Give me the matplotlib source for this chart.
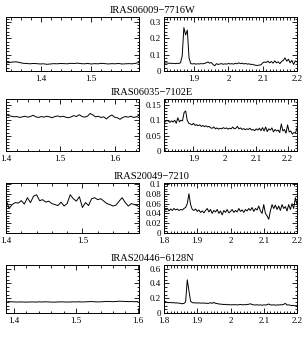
import numpy as np
import matplotlib.pyplot as plt
from matplotlib.ticker import MultipleLocator, FuncFormatter

plt.rcParams["font.family"] = ["Liberation Serif", "DejaVu Serif"]
plt.rcParams["font.size"] = 6.5

names = ["IRAS06009\u22127716W", "IRAS06035\u22127102E", "IRAS20049\u22127210", "IRAS20446\u22126128N"]

# H band (left panels): wavelength span of each sampled spectrum, flux values
h1_span = (1.330, 1.595)
h1_flux = [0.050, 0.052, 0.055, 0.056, 0.052, 0.047, 0.046, 0.044, 0.046, 0.045,
           0.043, 0.044, 0.041, 0.043, 0.045, 0.044, 0.046, 0.045, 0.044, 0.047,
           0.046, 0.048, 0.045, 0.044, 0.046, 0.043, 0.045, 0.044, 0.047, 0.045,
           0.043, 0.045, 0.044, 0.046, 0.043, 0.044, 0.045, 0.044, 0.047, 0.052]
h2_span = (1.400, 1.645)
h2_flux = [0.118, 0.115, 0.113, 0.111, 0.112, 0.109, 0.111, 0.113, 0.110, 0.112,
           0.116, 0.111, 0.109, 0.112, 0.110, 0.113, 0.111, 0.108, 0.112, 0.114,
           0.111, 0.113, 0.110, 0.108, 0.111, 0.115, 0.112, 0.118, 0.112, 0.110,
           0.113, 0.122, 0.117, 0.111, 0.113, 0.109, 0.111, 0.104, 0.112, 0.117,
           0.110, 0.108, 0.103, 0.109, 0.112, 0.110, 0.113, 0.109, 0.111, 0.116]
h3_span = (1.400, 1.572)
h3_flux = [0.068, 0.050, 0.058, 0.062, 0.061, 0.066, 0.059, 0.072, 0.062, 0.075,
           0.078, 0.066, 0.068, 0.063, 0.065, 0.060, 0.058, 0.056, 0.063, 0.055,
           0.060, 0.078, 0.070, 0.065, 0.074, 0.052, 0.062, 0.056, 0.070, 0.072,
           0.068, 0.070, 0.065, 0.060, 0.058, 0.055, 0.057, 0.065, 0.072, 0.062,
           0.055, 0.060, 0.058, 0.056]
h4_span = (1.390, 1.600)
h4_flux = [0.155, 0.152, 0.150, 0.148, 0.150, 0.149, 0.147, 0.149, 0.150, 0.148,
           0.151, 0.149, 0.152, 0.150, 0.148, 0.147, 0.149, 0.151, 0.150, 0.148,
           0.149, 0.151, 0.150, 0.152, 0.149, 0.151, 0.153, 0.155, 0.152, 0.150,
           0.151, 0.154, 0.157, 0.155, 0.153, 0.156, 0.160, 0.158, 0.156, 0.154,
           0.155, 0.153, 0.155]

# K band (right panels)
k1_span = (1.810, 2.200)
k1_flux = [0.050, 0.048, 0.050, 0.047, 0.048, 0.046, 0.047, 0.045, 0.047, 0.046,
           0.050, 0.090, 0.265, 0.220, 0.250, 0.080, 0.045, 0.043, 0.045, 0.042,
           0.044, 0.043, 0.045, 0.044, 0.046, 0.050, 0.055, 0.048, 0.052, 0.040,
           0.032, 0.045, 0.040, 0.043, 0.045, 0.041, 0.044, 0.042, 0.046, 0.043,
           0.045, 0.042, 0.047, 0.044, 0.050, 0.045, 0.048, 0.043, 0.046, 0.042,
           0.044, 0.040, 0.041, 0.037, 0.035, 0.034, 0.036, 0.038, 0.050, 0.055,
           0.052, 0.060, 0.050, 0.058, 0.048, 0.062, 0.050, 0.056, 0.045, 0.058,
           0.065, 0.080, 0.060, 0.072, 0.050, 0.065, 0.040, 0.062, 0.055]
k2_span = (1.810, 2.230)
k2_flux = [0.095, 0.100, 0.097, 0.093, 0.098, 0.094, 0.100, 0.090, 0.108, 0.095,
           0.100, 0.098, 0.125, 0.130, 0.100, 0.090, 0.088, 0.085, 0.090, 0.083,
           0.086, 0.082, 0.085, 0.080, 0.083, 0.079, 0.082, 0.078, 0.080, 0.075,
           0.074, 0.078, 0.072, 0.075, 0.071, 0.074, 0.072, 0.076, 0.073, 0.075,
           0.071, 0.074, 0.072, 0.078, 0.072, 0.074, 0.080, 0.072, 0.075, 0.070,
           0.073, 0.069, 0.072, 0.070, 0.074, 0.068, 0.070, 0.066, 0.072, 0.068,
           0.074, 0.066, 0.076, 0.065, 0.078, 0.063, 0.072, 0.068, 0.075, 0.062,
           0.070, 0.065, 0.068, 0.060, 0.088, 0.065, 0.070, 0.058, 0.085, 0.062,
           0.065, 0.055, 0.060, 0.058, 0.075]
k3_span = (1.800, 2.200)
k3_flux = [0.052, 0.047, 0.050, 0.045, 0.049, 0.046, 0.050, 0.047, 0.049, 0.046,
           0.048, 0.047, 0.050, 0.052, 0.060, 0.080, 0.058, 0.048, 0.046, 0.049,
           0.044, 0.047, 0.042, 0.045, 0.041, 0.046, 0.050, 0.043, 0.048, 0.040,
           0.046, 0.043, 0.048, 0.040, 0.045, 0.037, 0.046, 0.042, 0.048, 0.041,
           0.044, 0.048, 0.042, 0.046, 0.043, 0.050, 0.044, 0.047, 0.042, 0.048,
           0.045, 0.050, 0.046, 0.052, 0.044, 0.050, 0.047, 0.055, 0.045, 0.040,
           0.058, 0.040, 0.035, 0.028, 0.045, 0.058, 0.050, 0.057, 0.048, 0.055,
           0.046, 0.058, 0.050, 0.054, 0.045, 0.058, 0.048, 0.060, 0.050, 0.072,
           0.058]
k4_span = (1.800, 2.200)
k4_flux = [0.170, 0.150, 0.145, 0.140, 0.142, 0.138, 0.140, 0.135, 0.137, 0.133,
           0.130, 0.125, 0.130, 0.150, 0.450, 0.300, 0.160, 0.140, 0.138, 0.137,
           0.135, 0.137, 0.134, 0.135, 0.133, 0.134, 0.130, 0.132, 0.140, 0.130,
           0.145, 0.130, 0.128, 0.122, 0.120, 0.118, 0.115, 0.117, 0.112, 0.114,
           0.110, 0.112, 0.111, 0.113, 0.110, 0.112, 0.115, 0.111, 0.113, 0.112,
           0.116, 0.118, 0.125, 0.115, 0.110, 0.108, 0.112, 0.107, 0.110, 0.105,
           0.110, 0.108, 0.112, 0.122, 0.110, 0.108, 0.112, 0.105, 0.110, 0.108,
           0.112, 0.110, 0.118, 0.130, 0.108, 0.110, 0.105, 0.100, 0.103, 0.098,
           0.100]

h_spans = [h1_span, h2_span, h3_span, h4_span]
h_fluxes = [h1_flux, h2_flux, h3_flux, h4_flux]
k_spans = [k1_span, k2_span, k3_span, k4_span]
k_fluxes = [k1_flux, k2_flux, k3_flux, k4_flux]

# axis limits per row
h_xlims = [(1.330, 1.595), (1.400, 1.645), (1.400, 1.574), (1.387, 1.602)]
k_xlims = [(1.812, 2.200), (1.806, 2.230), (1.800, 2.200), (1.800, 2.200)]
ylims = [(0, 0.33), (0, 0.169), (0, 0.102), (0, 0.65)]
y_major = [0.1, 0.05, 0.02, 0.2]
y_minor = [0.02, 0.01, 0.005, 0.05]

# pixel boxes (top, bottom) of each row in a 305x350 figure
rows_px = [(17, 71), (99, 151), (183, 233), (265, 313)]
W, H = 305, 350

fig = plt.figure(figsize=(3.05, 3.5), dpi=100)
fmt = FuncFormatter(lambda v, p: "%g" % round(v, 4))

for i in range(4):
    top, bot = rows_px[i]
    b = 1 - bot / H
    h = (bot - top) / H
    axl = fig.add_axes([6 / W, b, 133 / W, h])
    axr = fig.add_axes([164 / W, b, 133 / W, h])

    xh = np.linspace(h_spans[i][0], h_spans[i][1], len(h_fluxes[i]))
    xk = np.linspace(k_spans[i][0], k_spans[i][1], len(k_fluxes[i]))
    axl.plot(xh, h_fluxes[i], color="black", lw=0.7)
    axr.plot(xk, k_fluxes[i], color="black", lw=0.7)

    axl.set_xlim(*h_xlims[i])
    axr.set_xlim(*k_xlims[i])
    for ax in (axl, axr):
        ax.set_ylim(*ylims[i])
        ax.yaxis.set_major_locator(MultipleLocator(y_major[i]))
        ax.yaxis.set_minor_locator(MultipleLocator(y_minor[i]))
        ax.xaxis.set_major_locator(MultipleLocator(0.1))
        ax.xaxis.set_major_formatter(fmt)
        ax.yaxis.set_major_formatter(fmt)
        ax.tick_params(which="both", direction="in", top=True, right=True,
                       width=0.6, labelsize=6.5)
        ax.tick_params(axis="x", pad=3)
        ax.tick_params(axis="y", pad=2)
        ax.tick_params(which="major", length=3.5)
        ax.tick_params(which="minor", length=1.8)
        for s in ax.spines.values():
            s.set_linewidth(0.7)
    axl.xaxis.set_minor_locator(MultipleLocator(0.02))
    axr.xaxis.set_minor_locator(MultipleLocator(0.01))
    axl.tick_params(labelleft=False)

    fig.text(152 / W, 1 - (top - 2) / H, names[i], ha="center", va="bottom", fontsize=7.5)

fig.savefig("out.png", dpi=100)
